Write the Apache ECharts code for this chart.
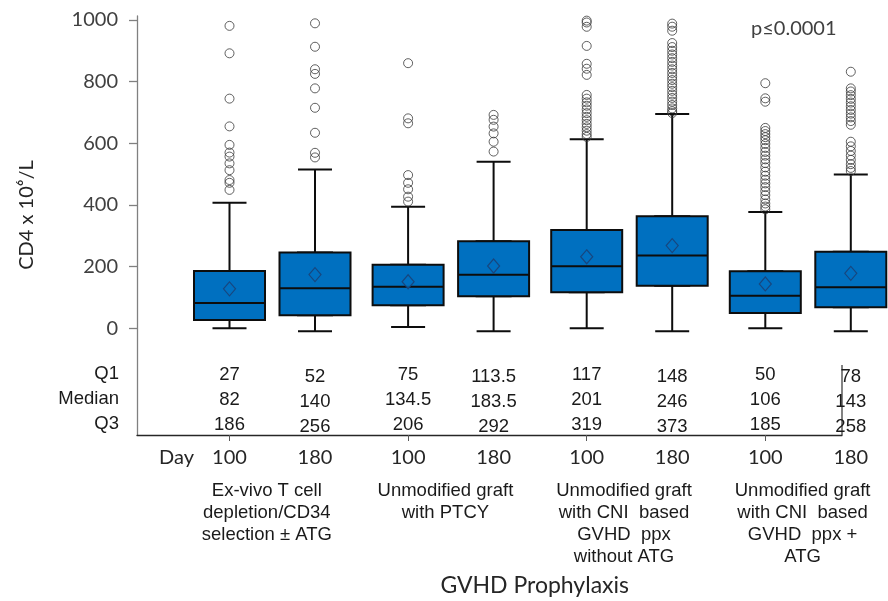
<!DOCTYPE html>
<html>
<head>
<meta charset="utf-8">
<script src="https://cdn.jsdelivr.net/npm/echarts@6/dist/echarts.min.js"></script>
<style>html,body{margin:0;padding:0;background:#fff;}#c{width:888px;height:601px;}</style>
</head>
<body>
<div id="c"></div>
<script>
// ---------- data ----------
const groups = [
  'Ex-vivo T cell\ndepletion/CD34\nselection ± ATG',
  'Unmodified graft\nwith PTCY',
  'Unmodified graft\nwith CNI  based\nGVHD  ppx\nwithout ATG',
  'Unmodified graft\nwith CNI  based\nGVHD  ppx +\nATG'
];
const dayLabels = ['100', '180'];
const rowLabels = ['Q1', 'Median', 'Q3'];
const yTicks = [0, 200, 400, 600, 800, 1000];

const q1Day100 = [27, 75, 117, 50];
const medianDay100 = [82, 134.5, 201, 106];
const q3Day100 = [186, 206, 319, 185];
const q1Day180 = [52, 113.5, 148, 78];
const medianDay180 = [140, 183.5, 246, 143];
const q3Day180 = [256, 292, 373, 258];

const lowDay100 = [0, 4, 0, 0];
const highDay100 = [407, 394, 613, 377];
const lowDay180 = [0, 0, 0, 0];
const highDay180 = [525, 550, 705, 509];

const meanDay100 = [128, 151, 232, 144];
const meanDay180 = [184, 212, 278, 188];

const outliersDay100 = [
  [981, 892, 745, 655, 595, 570, 557, 535, 513, 481, 472, 449],
  [860, 681, 665, 497, 472, 451, 427, 411],
  [998, 992, 978, 916, 858, 842, 822, 757, 745, 733, 722, 710, 698, 686, 675, 663, 652, 641, 630, 621],
  [795, 746, 735, 650, 640, 630, 620, 610, 598, 585, 572, 560, 548, 536, 522, 508, 495, 482, 470, 458, 445, 432, 418, 405, 395, 386]
];
const outliersDay180 = [
  [999, 923, 850, 835, 788, 725, 644, 579, 564],
  [702, 686, 664, 642, 615, 583],
  [998, 988, 975, 935, 922, 910, 898, 886, 874, 862, 850, 838, 826, 815, 803, 792, 780, 768, 757, 745, 734, 723, 714, 708],
  [842, 788, 778, 766, 754, 742, 730, 718, 706, 694, 682, 670, 615, 600, 585, 570, 556, 542, 530, 520]
];

// ---------- styles ----------
const LATO = "Lato, 'Open Sans', sans-serif";
const NARROW = "'Liberation Sans Narrow', 'Arial Narrow', 'Liberation Sans', sans-serif";
const BLUE = '#0070C0';
const Y_MIN = -346, Y_MAX = 1013;

function boxData(q1, med, q3) { return q1.map((v, i) => [v, v, med[i], q3[i], q3[i]]); }
function whiskerData(low, q1, q3, high) { return low.map((v, i) => [v, q1[i], q1[i], q3[i], high[i]]); }
function pointData(list) { const out = []; list.forEach((arr, i) => arr.forEach(v => out.push([i, v]))); return out; }

const chart = echarts.init(document.getElementById('c'), null, {renderer: 'canvas'});

const hiddenY = (gi) => ({type: 'value', gridIndex: gi, min: Y_MIN, max: Y_MAX, show: false});
const catAxis = (gi, extra) => Object.assign({
  type: 'category', gridIndex: gi, data: groups, position: 'bottom',
  axisLine: {show: false, onZero: false}, axisTick: {show: false}, splitLine: {show: false}
}, extra);

const option = {
  backgroundColor: '#ffffff',
  animation: false,
  grid: [
    {left: 140.2, width: 714.4, top: 16, height: 419, outerBoundsMode: 'none', containLabel: false},
    {left: 225.7, width: 714.4, top: 19, height: 419, outerBoundsMode: 'none', containLabel: false},
    {left: 137, width: 705, top: 16, height: 419, outerBoundsMode: 'none', containLabel: false},
    {left: 177.5, width: 714.4, top: 16, height: 419, outerBoundsMode: 'none', containLabel: false}
  ],
  xAxis: [
    catAxis(0, {
      axisTick: {show: true, alignWithLabel: true, length: 6, lineStyle: {color: '#595959', width: 1}},
      axisLabel: {interval: 0, margin: 13, formatter: () => dayLabels[0], fontFamily: LATO, fontSize: 20, color: '#262626'}
    }),
    catAxis(0, {
      axisLabel: {interval: 0, inside: true, margin: -2, fontFamily: NARROW, fontSize: 18.5, lineHeight: 25, color: '#1a1a1a',
        formatter: (v, i) => q1Day100[i] + '\n' + medianDay100[i] + '\n' + q3Day100[i]}
    }),
    catAxis(1, {
      axisLabel: {interval: 0, margin: 10, formatter: () => dayLabels[1], fontFamily: LATO, fontSize: 20, color: '#262626'}
    }),
    catAxis(1, {
      axisLabel: {interval: 0, inside: true, margin: -1, fontFamily: NARROW, fontSize: 18.5, lineHeight: 25, color: '#1a1a1a',
        formatter: (v, i) => q1Day180[i] + '\n' + medianDay180[i] + '\n' + q3Day180[i]}
    }),
    {type: 'value', gridIndex: 2, min: 0, max: 1, position: 'bottom',
      axisLine: {show: true, onZero: false, lineStyle: {color: '#262626', width: 1.3}},
      axisTick: {show: false}, axisLabel: {show: false}, splitLine: {show: false}},
    catAxis(3, {
      axisLabel: {interval: 0, margin: 45, fontFamily: NARROW, fontSize: 18.5, lineHeight: 22, color: '#1a1a1a', align: 'center'},
      name: 'GVHD Prophylaxis', nameLocation: 'middle', nameGap: 139, nameMoveOverlap: false,
      nameTextStyle: {fontFamily: LATO, fontSize: 23, color: '#262626'}
    })
  ],
  yAxis: [
    hiddenY(0),
    hiddenY(1),
    {type: 'value', gridIndex: 2, min: Y_MIN, max: Y_MAX,
      axisLine: {show: true, onZero: false, lineStyle: {color: '#808080', width: 1.3}},
      axisTick: {show: true, customValues: yTicks, length: 8, lineStyle: {color: '#808080', width: 1.3}},
      axisLabel: {show: true, customValues: yTicks, margin: 19, fontFamily: LATO, fontSize: 20, color: '#404040',
        formatter: (v) => String(v)},
      splitLine: {show: false}},
    hiddenY(3)
  ],
  series: [
    // day 100
    {type: 'boxplot', xAxisIndex: 1, yAxisIndex: 0, boxWidth: [34, 34], z: 2, silent: true,
      itemStyle: {color: BLUE, borderColor: '#0d0d0d', borderWidth: 2},
      data: whiskerData(lowDay100, q1Day100, q3Day100, highDay100)},
    {type: 'boxplot', xAxisIndex: 0, yAxisIndex: 0, boxWidth: [71, 71], z: 3, silent: true,
      itemStyle: {color: BLUE, borderColor: '#0d0d0d', borderWidth: 2},
      data: boxData(q1Day100, medianDay100, q3Day100)},
    {type: 'scatter', xAxisIndex: 0, yAxisIndex: 0, z: 4, silent: true, symbol: 'diamond', symbolSize: [12, 14],
      itemStyle: {color: BLUE, borderColor: '#1d3c6e', borderWidth: 1.2},
      data: meanDay100.map((v, i) => [i, v])},
    {type: 'scatter', xAxisIndex: 0, yAxisIndex: 0, z: 4, silent: true, symbol: 'circle', symbolSize: 9,
      itemStyle: {color: 'rgba(255,255,255,0)', borderColor: '#3a3a3a', borderWidth: 1},
      data: pointData(outliersDay100)},
    // day 180
    {type: 'boxplot', xAxisIndex: 3, yAxisIndex: 1, boxWidth: [34, 34], z: 2, silent: true,
      itemStyle: {color: BLUE, borderColor: '#0d0d0d', borderWidth: 2},
      data: whiskerData(lowDay180, q1Day180, q3Day180, highDay180)},
    {type: 'boxplot', xAxisIndex: 2, yAxisIndex: 1, boxWidth: [71, 71], z: 3, silent: true,
      itemStyle: {color: BLUE, borderColor: '#0d0d0d', borderWidth: 2},
      data: boxData(q1Day180, medianDay180, q3Day180)},
    {type: 'scatter', xAxisIndex: 2, yAxisIndex: 1, z: 4, silent: true, symbol: 'diamond', symbolSize: [12, 14],
      itemStyle: {color: BLUE, borderColor: '#1d3c6e', borderWidth: 1.2},
      data: meanDay180.map((v, i) => [i, v])},
    {type: 'scatter', xAxisIndex: 2, yAxisIndex: 1, z: 4, silent: true, symbol: 'circle', symbolSize: 9,
      itemStyle: {color: 'rgba(255,255,255,0)', borderColor: '#3a3a3a', borderWidth: 1},
      data: pointData(outliersDay180)}
  ],
  graphic: [
    {type: 'text', x: 27, y: 215, rotation: Math.PI / 2, silent: true,
      style: {text: 'CD4 x 10⁶/L', fill: '#262626', font: '20px ' + LATO, align: 'center', verticalAlign: 'middle'}},
    {type: 'text', x: 751, y: 29, silent: true,
      style: {text: 'p≤0.0001', fill: '#404040', font: '20px ' + LATO, align: 'left', verticalAlign: 'middle'}},
    {type: 'text', x: 119, y: 398.5, silent: true,
      style: {text: rowLabels.join('\n'), fill: '#1a1a1a', font: '18.5px ' + NARROW, lineHeight: 25, align: 'right', verticalAlign: 'middle'}},
    {type: 'text', x: 159, y: 458, silent: true,
      style: {text: 'Day', fill: '#262626', font: '20px ' + LATO, align: 'left', verticalAlign: 'middle'}},
    {type: 'line', silent: true, shape: {x1: 842, y1: 365, x2: 842, y2: 435},
      style: {stroke: '#404040', lineWidth: 1.3}}
  ]
};
chart.setOption(option);
</script>
</body>
</html>
